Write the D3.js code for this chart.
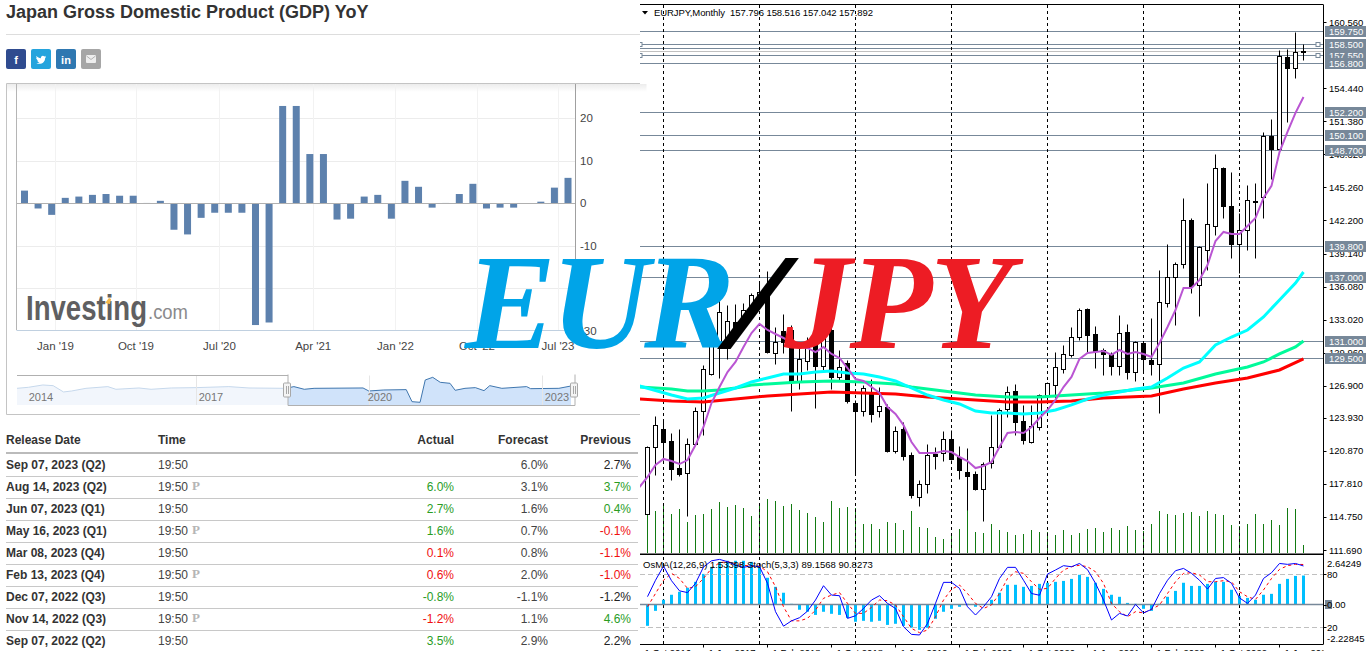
<!DOCTYPE html>
<html>
<head>
<meta charset="utf-8">
<style>
html, body { margin: 0; padding: 0; background: #fff; overflow: hidden; }
svg { display: block; }
.web { font-family: "Liberation Sans", Arial, sans-serif; }
.mt { font-family: "Liberation Sans", Tahoma, sans-serif; font-size: 9.5px; }
</style>
<script src="https://cdn.jsdelivr.net/npm/d3@7/dist/d3.min.js"></script>
</head>
<body>
<svg id="page" width="1372" height="651"></svg>
<script>
// left chart: GDP YoY bars
const gdpValues = [3.0,-1.2,-2.7,1.3,1.6,2.0,2.2,1.8,1.8,0.1,0.6,-6.2,-7.3,-3.4,-2.2,-2.2,-2.2,-28.6,-28.0,22.9,22.9,11.6,11.6,-3.8,-3.6,1.6,2.0,-3.6,5.3,3.9,-1.0,0.1,2.2,4.6,-1.2,-1.0,-1.0,0,0.4,3.7,6.0];
const gdpTicks = [20,10,0,-10,-20];
const gdpTickLabels = ["20","10","0","-10","","-30"];
const gdpDateLabels = ["Jan '19","Oct '19","Jul '20","Apr '21","Jan '22","Oct '22","Jul '23"];
const gdpDatePos = [2.28,8.2,14.35,21.25,27.3,33.3,39.26];

// navigator under the left chart
const navYears = [2013.89,2014.09,2014.34,2014.52,2014.70,2014.84,2015.09,2015.47,2015.61,2016.01,2016.22,2016.57,2017.0,2017.57,2017.92,2018.56,2018.70,2018.88,2019.05,2019.90,2020.0,2020.26,2020.65,2020.75,2020.89,2020.98,2021.11,2021.24,2021.41,2021.50,2021.67,2021.85,2022.0,2022.10,2022.31,2022.74,2022.81,2023.30,2023.51];
const navValues = [0.2,2.3,7.1,5.7,-7.3,-5.3,0.2,3.7,-1.8,0.9,-1.8,0.9,1.6,3.7,0.9,0.2,3.7,-1.8,0.2,0.9,-5.3,-3.2,-2.5,-27.3,-28.6,17.4,22.9,12.6,10.5,-3.9,0.2,1.6,-4.6,5.7,0.2,3.7,-0.5,0.2,5.0];
const navLabels = ["2014","2017","2020","2023"];

// release table
const tableHead = ["Release Date","Time","Actual","Forecast","Previous"];
const relDates = ["Sep 07, 2023 (Q2)","Aug 14, 2023 (Q2)","Jun 07, 2023 (Q1)","May 16, 2023 (Q1)","Mar 08, 2023 (Q4)","Feb 13, 2023 (Q4)","Dec 07, 2022 (Q3)","Nov 14, 2022 (Q3)","Sep 07, 2022 (Q2)"];
const relPrelim = [false,true,false,true,false,true,false,true,false];
const relActual = ["","6.0%","2.7%","1.6%","0.1%","0.6%","-0.8%","-1.2%","3.5%"];
const relActualSign = [0,1,1,1,-1,-1,1,-1,1];
const relForecast = ["6.0%","3.1%","1.6%","0.7%","0.8%","2.0%","-1.1%","1.1%","2.9%"];
const relPrevious = ["2.7%","3.7%","0.4%","-0.1%","-1.1%","-1.0%","-1.2%","4.6%","2.2%"];
const relPreviousSign = [0,1,1,-1,-1,-1,0,1,0];

// EURJPY monthly candles, Nov 2016 to Sep 2023
const opens = [115.02,121.23,122.89,121.78,119.28,118.82,121.51,124.56,127.99,130.67,130.95,132.80,132.34,133.91,135.30,135.58,129.93,131.97,132.06,127.25,129.19,130.67,128.73,132.06,127.71,129.01,125.30,124.56,126.32,124.56,124.93,120.86,122.89,120.49,116.60,117.80,120.58,120.67,121.97,120.30,118.91,118.73,117.34,119.74,121.23,124.75,126.42,123.64,121.69,123.08,126.04,126.97,128.45,129.75,131.41,134.01,131.69,130.21,129.84,128.73,131.88,128.17,130.86,129.29,128.91,134.56,136.97,138.17,142.25,136.23,139.47,141.69,147.06,143.54,140.03,141.32,144.01,144.38,150.03,148.82,157.34,156.32,157.796];
const highs = [121.32,124.10,123.82,122.52,122.89,122.06,124.90,128.82,131.60,134.84,134.38,134.47,134.56,135.49,136.60,137.53,132.34,133.54,132.50,130.40,131.41,132.06,132.71,132.43,130.21,129.28,125.58,126.97,127.52,126.78,125.21,123.17,123.54,120.76,118.17,121.51,121.23,122.71,122.80,121.32,121.14,119.00,119.84,124.19,124.84,126.88,127.06,125.12,125.12,126.10,127.25,130.02,130.67,132.34,134.10,134.10,132.43,130.40,130.02,133.45,132.62,131.04,130.95,133.17,137.62,140.03,138.36,144.29,142.43,139.84,145.67,148.36,147.15,146.69,142.90,145.49,145.67,150.40,151.60,157.99,158.08,159.66,158.516];
const lows = [115.02,118.63,120.02,118.17,118.54,114.84,121.40,122.34,127.90,127.62,129.38,131.41,132.06,133.17,134.90,129.90,128.91,129.93,124.56,126.60,128.36,124.84,128.36,126.60,127.43,125.30,118.63,124.10,123.54,124.00,120.80,120.67,120.02,116.51,115.76,116.97,119.19,119.93,120.00,118.26,115.39,117.25,114.38,119.28,121.20,124.00,122.34,121.51,121.60,122.80,125.58,125.80,128.08,129.56,131.13,130.02,128.54,127.89,127.89,127.89,127.52,127.34,128.08,127.89,124.38,134.19,132.53,137.80,135.49,133.36,137.62,140.86,142.43,138.73,137.34,139.47,138.73,142.43,146.04,148.45,151.32,155.40,157.042];
const closes = [121.23,123.26,121.69,119.19,118.73,121.51,124.56,128.45,130.67,133.73,132.90,132.34,133.91,135.30,135.58,130.02,130.95,130.95,127.25,129.38,130.49,128.73,131.88,127.71,128.64,125.49,124.56,126.69,124.28,125.02,120.86,122.71,120.39,116.78,117.80,120.49,120.39,121.97,120.12,119.10,118.54,117.34,119.65,121.23,124.65,126.32,123.54,121.88,123.17,126.04,127.15,128.64,129.84,131.41,133.91,131.60,130.12,129.84,128.73,131.78,128.17,130.95,129.38,128.91,134.65,136.97,138.17,142.25,136.14,139.75,141.88,147.06,143.54,140.03,141.32,144.10,143.92,150.03,148.82,157.43,156.32,157.80,157.892];
const volumes = [49,42,47,39,44,31,38,39,44,51,46,48,45,37,48,54,52,47,49,43,40,36,31,52,45,46,45,29,29,24,31,30,23,42,26,25,16,14,20,24,43,21,20,29,23,21,18,19,23,21,21,18,23,18,20,24,25,21,25,23,27,23,22,29,42,39,38,40,41,37,42,39,38,28,27,29,39,29,33,28,45,44,8];

// moving averages, the first purple value belongs to the bar before the chart edge
const purpleMa = [117.52,118.45,119.56,120.12,119.93,119.65,120.02,121.41,123.08,125.30,126.78,128.17,129.10,130.49,131.78,132.62,132.06,131.69,131.32,130.86,130.49,130.40,130.02,130.49,129.84,129.47,128.54,127.52,127.34,126.78,126.23,124.93,124.28,123.26,121.69,120.67,120.67,120.67,120.86,120.76,120.30,119.93,119.28,119.47,119.84,121.23,122.52,122.62,122.52,123.08,123.91,124.65,125.58,126.78,127.71,129.38,129.93,130.02,130.12,129.75,130.21,129.84,130.02,129.84,129.56,130.86,132.34,133.91,135.95,135.95,136.69,138.08,140.30,141.14,140.95,140.95,141.69,142.43,144.29,145.40,148.54,150.40,152.16,153.64];
const cyanBars = [-1,3,5,7,9,11,13,15,17,19,21,23,25,27,29,31,33,35,37,39,41,43,45,47,49,51,53,55,57,59,61,63,65,67,69,71,73,75,77,79,81,82];
const cyanMa = [126.88,126.04,125.67,125.77,126.23,126.69,127.25,127.62,127.99,127.99,128.17,128.27,128.08,127.99,127.71,127.34,126.69,126.04,125.58,125.21,124.56,124.38,124.38,124.28,124.38,124.65,125.12,125.67,126.04,126.32,126.60,126.78,127.62,128.54,129.10,130.67,131.41,132.06,133.27,134.84,136.41,137.43];
const greenBars = [-1,3,5,7,9,11,13,15,19,23,27,31,33,37,41,45,49,53,57,63,67,71,75,77,79,81,82];
const greenMa = [126.78,126.60,126.41,126.41,126.51,126.69,126.97,127.06,127.25,127.34,127.25,127.06,126.78,126.41,126.04,125.86,125.86,126.04,126.23,126.69,127.15,127.99,128.64,129.10,129.84,130.49,131.04];
const redBars = [-1,3,7,11,15,19,23,27,31,35,39,43,45,49,53,57,63,67,71,75,79,82];
const redMa = [125.67,125.49,125.39,125.67,125.95,126.13,126.32,126.23,126.13,125.86,125.67,125.49,125.39,125.39,125.49,125.77,125.95,126.60,127.15,127.62,128.36,129.38];

const priceTicks = [160.56,154.44,151.38,148.32,145.26,142.20,139.14,136.08,133.02,129.96,126.90,123.93,120.87,117.81,114.75,111.69];
const levels = [159.75,158.50,158.20,157.55,156.80,152.20,150.10,148.70,139.80,137.00,131.00,129.50];
const levelLabels = ["159.750","158.500","","157.550","156.800","152.200","150.100","148.700","139.800","137.000","131.000","129.500"];
const anchoredLevels = [158.50,157.55];
const bidPrice = 157.892;
const yearBars = [2,14,26,38,50,62,74];
const dateBars = [-1,7,15,23,31,39,47,55,63,71,79];
const dateLabels = ["1 Oct 2016","1 Jun 2017","1 Feb 2018","1 Oct 2018","1 Jun 2019","1 Feb 2020","1 Oct 2020","1 Jun 2021","1 Feb 2022","1 Oct 2022","1 Jun 2023"];

// oscillator panel
const osmaValues = [-1.19,-0.38,0.22,0.49,0.65,0.87,1.19,1.62,2.00,2.27,2.33,2.33,2.33,2.27,2.00,1.41,0.92,0.60,0,-0.32,-0.43,-0.60,-0.43,-0.54,-0.60,-0.76,-0.97,-0.92,-0.97,-0.92,-1.14,-1.08,-1.19,-1.30,-1.41,-1.30,-0.81,-0.43,-0.27,-0.16,0,-0.16,-0.05,0.22,0.60,1.03,1.03,0.92,0.97,1.08,1.14,1.19,1.24,1.35,1.57,1.46,1.14,0.81,0.49,0.38,0.05,0,-0.27,-0.38,0,0.38,0.70,1.14,0.97,0.97,1.08,1.19,1.19,0.76,0.43,0.32,0.22,0.49,0.54,1.08,1.35,1.51,1.53];
const stochMain = [54.4,73,89,72.5,61,59,69.5,88,95,96.6,94,90,87.6,89.5,88.3,69.5,37.4,21,27,30.6,38,50.6,66.8,56.2,55.5,29.8,32.8,41,50.6,55.5,46.8,41,20.4,11.7,11,24,46.8,70.6,70.6,63.8,43,33.6,43,54.3,75,87.6,87.6,73,58,56,80,84.6,89.5,88.3,92,85,69.5,50.6,28,35.5,32.5,45.7,36,40,58,73,83.8,86.4,80.8,73,63,75,76,69.5,53,46.8,56.2,75,81.5,92,91,92,89.16];
const stochSignal = [43,58,73,80.8,75,63.8,65.7,75,86.4,92.9,94,92,90,89,89,82.6,65.7,43,27,27,29.8,39.2,52.5,56.2,59,46.8,35.5,35.5,42.3,50.6,49.8,45,31.7,18.5,13.6,16.6,31.7,50.6,62.7,67.6,58,46.8,41,45,58,75,82.6,80.8,71.3,62.7,63.8,75,84.6,88.3,90,88.3,82.6,69.5,46.8,37.4,31.7,37.4,36,40,45,58,71.3,80.8,81.5,79,71.3,71.3,72.5,71.3,60,54.3,51.3,62,75,85.3,89.5,91,90.83];

const svg = d3.select("#page");
const snap = v => Math.round(v) + 0.5;

const drawHeader = () => {
    svg.append("text").attr("class", "web").attr("x", 6).attr("y", 18)
        .attr("font-size", 18).attr("font-weight", "bold").attr("fill", "#333")
        .text("Japan Gross Domestic Product (GDP) YoY");
    svg.append("line").attr("x1", 6).attr("x2", 640).attr("y1", 34.5).attr("y2", 34.5).attr("stroke", "#ddd");

    const shareColors = ["#2f4b8f", "#25a4dd", "#2f78b1", "#a6a6a6"];
    const shareGlyphs = ["f", "", "in", ""];
    const share = svg.append("g").selectAll("g").data(shareColors).join("g")
        .attr("transform", (d, i) => `translate(${6 + i * 25},49)`);
    share.append("rect").attr("width", 20).attr("height", 20).attr("rx", 2).attr("fill", d => d);
    share.append("text").attr("class", "web").attr("x", 10).attr("y", 14.5).attr("text-anchor", "middle")
        .attr("font-size", 11).attr("font-weight", "bold").attr("fill", "#fff").text((d, i) => shareGlyphs[i]);
    // bird and envelope icons
    d3.select(share.nodes()[1]).append("path").attr("fill", "#fff")
        .attr("d", "M5 6.5c1.6 1.9 3.2 2.7 4.9 2.8-.3-2 1.9-3.3 3.4-1.9l1.7-.6-.9 1.5 1-.2-1 1.1c0 3.700-3.600 7-8.800 5.100 1.300.1 2.400-.2 3.300-1-1.300-.2-2-.8-2.400-1.900h1.100c-1.300-.5-2-1.300-2.100-2.600l1 .3c-1.100-.9-1.300-1.900-.7-2.100z");
    d3.select(share.nodes()[3]).append("rect").attr("x", 5).attr("y", 6).attr("width", 10).attr("height", 8)
        .attr("rx", 1).attr("fill", "#eee");
    d3.select(share.nodes()[3]).append("path").attr("d", "M5.500 7l4.500 3.500 4.500-3.500").attr("fill", "none").attr("stroke", "#999").attr("stroke-width", 0.7);
}

const drawGdpChart = () => {
    const top = 84, bottom = 330, left = 16.5, right = 575.5;
    const x = d3.scaleLinear().domain([0, 40]).range([24.5, 568]);
    const y = d3.scaleLinear().domain([-30, 20]).range([331, 118.3]);
    const g = svg.append("g");

    // frame with the soft shadow below its top edge
    const defs = svg.append("defs");
    const shade = defs.append("linearGradient").attr("id", "topShade").attr("x1", 0).attr("x2", 0).attr("y1", 0).attr("y2", 1);
    shade.append("stop").attr("offset", 0).attr("stop-color", "#ececec");
    shade.append("stop").attr("offset", 1).attr("stop-color", "#fff");
    g.append("rect").attr("x", 6.5).attr("y", 84).attr("width", 640).attr("height", 8).attr("fill", "url(#topShade)");
    g.append("path").attr("d", "M640 83.500H6.500V414.500H640").attr("fill", "none").attr("stroke", "#c4c4c4");

    g.selectAll(".hg").data(gdpTicks.filter(d => d !== 0)).join("line")
        .attr("x1", left).attr("x2", right).attr("y1", d => snap(y(d))).attr("y2", d => snap(y(d)))
        .attr("stroke", "#ececec");
    g.selectAll(".vg").data(gdpDatePos).join("line")
        .attr("x1", d => snap(x(d))).attr("x2", d => snap(x(d))).attr("y1", top).attr("y2", bottom)
        .attr("stroke", "#f2f2f2");

    g.selectAll(".bar").data(gdpValues).join("rect")
        .attr("x", (d, i) => x(i) - 3.5).attr("width", 7)
        .attr("y", d => y(Math.max(0, d))).attr("height", d => Math.abs(y(d) - y(0)))
        .attr("fill", "#5d81ad");

    g.append("line").attr("x1", left).attr("x2", right).attr("y1", snap(y(0))).attr("y2", snap(y(0))).attr("stroke", "#b0b0b0");
    g.append("line").attr("x1", left).attr("x2", left).attr("y1", top).attr("y2", bottom).attr("stroke", "#b5b5b5");
    g.append("line").attr("x1", right).attr("x2", right).attr("y1", top).attr("y2", bottom).attr("stroke", "#a0a0a0");
    g.append("line").attr("x1", left).attr("x2", right).attr("y1", bottom + 0.5).attr("y2", bottom + 0.5).attr("stroke", "#c0d0e0");

    const axisValues = [20, 10, 0, -10, -20, -30];
    g.selectAll(".yl").data(axisValues).join("text").attr("class", "web")
        .attr("x", 580).attr("y", d => y(d) + 4).attr("font-size", 11.5).attr("fill", "#444")
        .text((d, i) => gdpTickLabels[i]);
    g.selectAll(".xl").data(gdpDatePos).join("text").attr("class", "web")
        .attr("x", d => x(d)).attr("y", 350).attr("text-anchor", "middle").attr("font-size", 11.5).attr("fill", "#444")
        .text((d, i) => gdpDateLabels[i]);

    // watermark
    g.append("text").attr("class", "web").attr("x", 26).attr("y", 320).attr("font-size", 35)
        .attr("font-weight", "bold").attr("fill", "#5f5f61").attr("textLength", 121).attr("lengthAdjust", "spacingAndGlyphs").text("Investing");
    g.append("text").attr("class", "web").attr("x", 148).attr("y", 319).attr("font-size", 21)
        .attr("fill", "#8a8a8c").attr("textLength", 40).attr("lengthAdjust", "spacingAndGlyphs").text(".com");
    g.append("path").attr("d", "M105 303l4-5 2 1-1 5z").attr("fill", "#f5b94a");
}

const drawNavigator = () => {
    const top = 375.5, bottom = 405, left = 17, right = 575, split = 288;
    const x = d3.scaleLinear().domain([2017, 2023]).range([196, 541.6]);
    const y = d3.scaleLinear().domain([-28.6, 22.9]).range([402.3, 377.3]);
    const area = d3.area().x((d, i) => x(navYears[i])).y0(bottom).y1(d => y(d));
    const line = d3.line().x((d, i) => x(navYears[i])).y(d => y(d));
    const g = svg.append("g");
    const defs = svg.append("defs");
    defs.append("clipPath").attr("id", "navOld").append("rect").attr("x", left).attr("y", top).attr("width", split - left).attr("height", bottom - top);
    defs.append("clipPath").attr("id", "navNew").append("rect").attr("x", split).attr("y", top).attr("width", right - split).attr("height", bottom - top);

    g.append("path").attr("d", area(navValues)).attr("fill", "#f2f6fc").attr("clip-path", "url(#navOld)");
    g.append("path").attr("d", line(navValues)).attr("fill", "none").attr("stroke", "#c6d8ec").attr("clip-path", "url(#navOld)");
    g.append("path").attr("d", area(navValues)).attr("fill", "#d0e3fa").attr("clip-path", "url(#navNew)");
    g.append("path").attr("d", line(navValues)).attr("fill", "none").attr("stroke", "#3f76ae").attr("clip-path", "url(#navNew)");

    [2017, 2020, 2023].forEach(yr => {
        g.append("line").attr("x1", snap(x(yr))).attr("x2", snap(x(yr))).attr("y1", top).attr("y2", bottom).attr("stroke", "#e6e6e6");
    });
    g.append("path").attr("d", `M${left} ${top}H${split}`).attr("stroke", "#b0b0b0").attr("fill", "none");
    g.append("path").attr("d", `M${split} ${top - 1}V${bottom + 0.5}H${right}V${top - 1}`).attr("stroke", "#b0b0b0").attr("fill", "none");

    const navLabelX = [41, 211, 380, 557];
    g.selectAll(".nl").data(navLabels).join("text").attr("class", "web")
        .attr("x", (d, i) => navLabelX[i]).attr("y", 401).attr("text-anchor", "middle")
        .attr("font-size", 11).attr("fill", "#777").text(d => d);

    g.selectAll(".hd").data([287, 574]).join("rect")
        .attr("x", d => d - 3.5).attr("y", 383).attr("width", 7).attr("height", 14).attr("rx", 1)
        .attr("fill", "#f4f4f4").attr("stroke", "#a8a8a8");
    g.selectAll(".hd1").data([286, 288, 573, 575]).join("line")
        .attr("x1", d => d + 0.5).attr("x2", d => d + 0.5).attr("y1", 386).attr("y2", 394).attr("stroke", "#a8a8a8");
}

const drawTable = () => {
    const g = svg.append("g").attr("class", "web").attr("font-size", 12);
    const rowY = i => 469 + i * 22;
    const headX = [6, 158, 454, 548, 631];
    const headAnchor = ["start", "start", "end", "end", "end"];
    g.selectAll(".th").data(tableHead).join("text")
        .attr("x", (d, i) => headX[i]).attr("y", 444).attr("text-anchor", (d, i) => headAnchor[i])
        .attr("font-weight", "bold").attr("font-size", 12).attr("fill", "#333").text(d => d);
    g.append("line").attr("x1", 6).attr("x2", 638).attr("y1", 453).attr("y2", 453).attr("stroke", "#bbb").attr("stroke-width", 2);
    g.selectAll(".sep").data(relDates.slice(1)).join("line")
        .attr("x1", 6).attr("x2", 638).attr("y1", (d, i) => 476.5 + i * 22).attr("y2", (d, i) => 476.5 + i * 22)
        .attr("stroke", "#c8c8c8");

    const signColor = s => s > 0 ? "#2a9d1f" : s < 0 ? "#f01010" : "#222";
    g.selectAll(".d").data(relDates).join("text").attr("x", 6).attr("y", (d, i) => rowY(i))
        .attr("font-weight", "bold").attr("font-size", 12).attr("fill", "#333").text(d => d);
    g.selectAll(".t").data(relDates).join("text").attr("x", 158).attr("y", (d, i) => rowY(i))
        .attr("fill", "#444").text("19:50");
    g.selectAll(".p").data(relPrelim.map((d, i) => [d, i]).filter(d => d[0])).join("text")
        .attr("x", 192).attr("y", d => rowY(d[1]) - 1).attr("font-family", "Liberation Serif").attr("font-weight", "bold")
        .attr("font-size", 13).attr("fill", "#b5b5b5").text("P");
    g.selectAll(".a").data(relActual).join("text").attr("x", 454).attr("y", (d, i) => rowY(i)).attr("text-anchor", "end")
        .attr("fill", (d, i) => signColor(relActualSign[i])).text(d => d);
    g.selectAll(".f").data(relForecast).join("text").attr("x", 548).attr("y", (d, i) => rowY(i)).attr("text-anchor", "end")
        .attr("fill", "#444").text(d => d);
    g.selectAll(".v").data(relPrevious).join("text").attr("x", 631).attr("y", (d, i) => rowY(i)).attr("text-anchor", "end")
        .attr("fill", (d, i) => signColor(relPreviousSign[i])).text(d => d);
}

const drawMetatrader = () => {
    const axisX = 1323.5, panelTop = 4.5, mainBottom = 553.5, subTop = 555.5, subBottom = 644.5;
    const x = d3.scaleLinear().domain([0, 82]).range([647.5, 1303.5]);
    const y = d3.scaleLinear().domain([111.69, 160.56]).range([550, 22.2]);
    const yVol = d3.scaleLinear().domain([0, 54]).range([553, 499]);
    const yOsma = d3.scaleLinear().domain([-2.22845, 2.64249]).range([645, 555]);
    const yStoch = d3.scaleLinear().domain([0, 100]).range([644.7, 556.4]);
    const zeroY = 604.5;

    svg.append("defs").append("clipPath").attr("id", "mtClip")
        .append("rect").attr("x", 640).attr("y", 0).attr("width", axisX - 640).attr("height", 651);
    const g = svg.append("g").attr("clip-path", "url(#mtClip)");
    const axis = svg.append("g").attr("class", "mt");

    // volumes stay behind everything else
    g.selectAll(".vol").data(volumes).join("line")
        .attr("x1", (d, i) => x(i)).attr("x2", (d, i) => x(i))
        .attr("y1", yVol(0)).attr("y2", d => yVol(d))
        .attr("stroke", "#127a12");

    // price levels
    g.selectAll(".lvl").data(levels).join("line")
        .attr("x1", 640).attr("x2", axisX).attr("y1", d => snap(y(d))).attr("y2", d => snap(y(d)))
        .attr("stroke", "#778899");
    g.append("line").attr("x1", 640).attr("x2", axisX).attr("y1", snap(y(bidPrice))).attr("y2", snap(y(bidPrice))).attr("stroke", "#c0c0c0");
    g.selectAll(".anc").data(anchoredLevels.flatMap(d => [[641, d], [1319, d]])).join("rect")
        .attr("x", d => d[0] - 3).attr("y", d => snap(y(d[1])) - 2).attr("width", 4).attr("height", 4)
        .attr("fill", "#fff").attr("stroke", "#778899");

    // year separators, dash phase starts on a whole pixel so the gaps stay clean
    g.selectAll(".sep").data(yearBars).join("line")
        .attr("x1", d => x(d)).attr("x2", d => x(d)).attr("y1", 5).attr("y2", 644)
        .attr("stroke", "#000").attr("stroke-dasharray", "3,3");

    // candles
    const candle = g.selectAll(".candle").data(opens).join("g");
    candle.append("line")
        .attr("x1", (d, i) => x(i)).attr("x2", (d, i) => x(i))
        .attr("y1", (d, i) => snap(y(highs[i]))).attr("y2", (d, i) => snap(y(lows[i])))
        .attr("stroke", "#000");
    candle.append("rect")
        .attr("x", (d, i) => x(i) - 2).attr("width", 4)
        .attr("y", (d, i) => snap(y(Math.max(opens[i], closes[i]))))
        .attr("height", (d, i) => Math.round(y(Math.min(opens[i], closes[i]))) - Math.round(y(Math.max(opens[i], closes[i]))))
        .attr("fill", (d, i) => closes[i] >= opens[i] ? "#fff" : "#000")
        .attr("stroke", "#000");

    // moving averages
    const maLine = (bars, values, color, width) => {
        g.append("path")
            .attr("d", d3.line().x((d, i) => x(bars[i])).y(d => y(d))(values))
            .attr("fill", "none").attr("stroke", color).attr("stroke-width", width);
    };
    maLine(redBars, redMa, "#ff0000", 3);
    maLine(greenBars, greenMa, "#00fa9a", 3);
    maLine(cyanBars, cyanMa, "#00ffff", 3);
    maLine(purpleMa.map((d, i) => i - 1), purpleMa, "#ba55d3", 2);

    // panel frames
    g.append("line").attr("x1", 640).attr("x2", axisX).attr("y1", panelTop).attr("y2", panelTop).attr("stroke", "#000");
    g.append("rect").attr("x", 640).attr("y", mainBottom + 0.5).attr("width", axisX - 640).attr("height", 1).attr("fill", "#000");
    g.append("rect").attr("x", 640).attr("y", subTop - 2).attr("width", axisX - 640).attr("height", 1.500).attr("fill", "#000");

    // oscillator panel
    g.selectAll(".osma").data(osmaValues).join("rect")
        .attr("x", (d, i) => x(i) - 1.5).attr("width", 3)
        .attr("y", d => Math.min(yOsma(d), zeroY)).attr("height", d => Math.abs(yOsma(d) - zeroY))
        .attr("fill", "#00bfff");
    [80, 20].forEach(v => {
        g.append("line").attr("x1", 640).attr("x2", axisX).attr("y1", snap(yStoch(v))).attr("y2", snap(yStoch(v)))
            .attr("stroke", "#c0c0c0").attr("stroke-dasharray", "5,3");
    });
    g.append("line").attr("x1", 640).attr("x2", axisX).attr("y1", zeroY).attr("y2", zeroY).attr("stroke", "#778899").attr("stroke-width", 1.500);
    const stochLine = d3.line().x((d, i) => x(i)).y(d => yStoch(d));
    g.append("path").attr("d", stochLine(stochSignal)).attr("fill", "none").attr("stroke", "#ff0000").attr("stroke-dasharray", "3,3");
    g.append("path").attr("d", stochLine(stochMain)).attr("fill", "none").attr("stroke", "#0000ff");
    g.append("text").attr("class", "mt").attr("x", 643).attr("y", 568).attr("fill", "#000")
        .text("OsMA(12,26,9) 1.53398  Stoch(5,3,3) 89.1568 90.8273");

    g.append("path").attr("d", "M642 11h6l-3 3.500z").attr("fill", "#000");
    g.append("text").attr("class", "mt").attr("x", 654).attr("y", 16).attr("fill", "#000").attr("xml:space", "preserve")
        .attr("textLength", 219).text("EURJPY,Monthly  157.796 158.516 157.042 157.892");

    // bottom axis
    g.append("line").attr("x1", 640).attr("x2", axisX).attr("y1", subBottom).attr("y2", subBottom).attr("stroke", "#000");
    g.selectAll(".dt").data(dateBars).join("line")
        .attr("x1", d => x(d)).attr("x2", d => x(d)).attr("y1", subBottom).attr("y2", subBottom + 3).attr("stroke", "#000");
    g.selectAll(".dl").data(dateBars).join("text").attr("class", "mt")
        .attr("x", d => x(d) + 5).attr("y", 656).attr("fill", "#000").text((d, i) => dateLabels[i]);

    // price axis
    axis.append("line").attr("x1", axisX).attr("x2", axisX).attr("y1", panelTop).attr("y2", subBottom).attr("stroke", "#000");
    axis.selectAll(".tk").data(priceTicks).join("line")
        .attr("x1", axisX).attr("x2", axisX + 3).attr("y1", d => snap(y(d))).attr("y2", d => snap(y(d))).attr("stroke", "#000");
    axis.selectAll(".pl").data(priceTicks).join("text")
        .attr("x", 1329).attr("y", d => y(d) + 3.5).attr("fill", "#000").text(d => d.toFixed(3));

    const shown = levels.map((d, i) => [d, levelLabels[i]]).filter(d => d[1]);
    const box = axis.selectAll(".bx").data(shown).join("g").attr("transform", d => `translate(1325,${snap(y(d[0])) - 5.5})`);
    box.append("rect").attr("width", 41).attr("height", 11).attr("fill", "#778899");
    box.append("text").attr("x", 4).attr("y", 9).attr("fill", "#fff").text(d => d[1]);

    // oscillator axis
    [[2.64249, yOsma(2.64249) + 8, "2.64249"], [-2.22845, yOsma(-2.22845) - 7, "-2.22845"]].forEach(d => {
        axis.append("text").attr("x", 1327).attr("y", d[1] + 3.5).attr("fill", "#000").text(d[2]);
    });
    [[80, "80"], [20, "20"]].forEach(d => {
        axis.append("text").attr("x", 1327).attr("y", yStoch(d[0]) + 3.5).attr("fill", "#000").text(d[1]);
    });
    axis.append("rect").attr("x", 1325).attr("y", 600).attr("width", 7).attr("height", 9).attr("fill", "#778899");
    axis.append("text").attr("x", 1327).attr("y", zeroY + 3.5).attr("fill", "#000").text("0.00");
    axis.selectAll(".sk").data([yStoch(80), yStoch(20), zeroY]).join("line")
        .attr("x1", axisX).attr("x2", axisX + 3).attr("y1", d => snap(d)).attr("y2", d => snap(d)).attr("stroke", "#000");
}

const drawBanner = () => {
    const g = svg.append("g").attr("font-family", "Liberation Serif").attr("font-style", "italic").attr("font-weight", "bold").attr("font-size", 136);
    g.append("text").attr("x", 465).attr("y", 348).attr("fill", "#00a4e8").attr("textLength", 270).text("EUR");
    // the slash leans further than the font's own glyph
    g.append("text").attr("transform", "translate(729,348) scale(1.45,1)").attr("fill", "#000").text("/");
    g.append("text").attr("x", 784).attr("y", 348).attr("fill", "#ed1c24").attr("textLength", 229).text("JPY");
}

drawHeader();
drawGdpChart();
drawNavigator();
drawTable();
drawMetatrader();
drawBanner();
</script>
</body>
</html>
